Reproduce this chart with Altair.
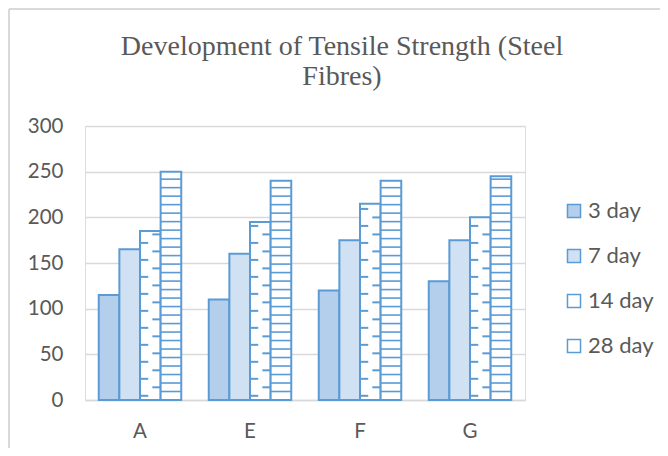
import altair as alt
import pandas as pd

categories = ["A", "E", "F", "G"]
series = ["3 day", "7 day", "14 day", "28 day"]
day3 = [115, 110, 120, 130]
day7 = [165, 160, 175, 175]
day14 = [185, 195, 215, 200]
day28 = [250, 240, 240, 245]
title_lines = ["Development of Tensile Strength (Steel", "Fibres)"]

rows = []
for s, vals in zip(series, [day3, day7, day14, day28]):
    for c, v in zip(categories, vals):
        rows.append({"cat": c, "series": s, "value": v})
df = pd.DataFrame(rows)

BLUE = "#5B9BD5"
GREY = "#595959"
FONT = "Lato"

xenc = alt.X("cat:N", sort=categories, title=None,
             scale=alt.Scale(paddingInner=0.25, paddingOuter=0.125),
             axis=alt.Axis(labelAngle=0, labelFont=FONT, labelFontSize=20.5, labelColor=GREY,
                           ticks=False, domainColor="#d9d9d9", domainWidth=1.5, labelPadding=21))
yenc = alt.Y("value:Q", title=None,
             scale=alt.Scale(domain=[0, 300]),
             axis=alt.Axis(values=[0, 50, 100, 150, 200, 250, 300], labelFont=FONT, labelFontSize=20.5,
                           labelColor=GREY, ticks=False, domain=False, gridColor="#d9d9d9",
                           gridWidth=1.5, labelPadding=22))

bars = alt.Chart(df).mark_bar(stroke=BLUE, strokeWidth=2).encode(
    x=xenc,
    xOffset=alt.XOffset("series:N", sort=series),
    y=yenc,
    fill=alt.Fill("series:N", sort=series, title=None,
                  scale=alt.Scale(domain=series, range=["#b4cfec", "#d0e1f3", "#ffffff", "#ffffff"]),
                  legend=alt.Legend(orient="none", legendX=478, legendY=74, labelFont=FONT,
                                    labelFontSize=22, labelColor=GREY, symbolType="square",
                                    symbolSize=170, symbolStrokeColor=BLUE, symbolStrokeWidth=1.5,
                                    rowPadding=23, labelOffset=3)),
)

# horizontal lines pattern for 28 day
lines28 = alt.Chart(df).transform_filter(alt.datum.series == "28 day").transform_calculate(
    ys="sequence(9.3, datum.value - 2, 9.3)"
).transform_flatten(["ys"]).mark_rule(color=BLUE, strokeWidth=1.6).encode(
    x=alt.X("cat:N", sort=categories, bandPosition=0.75),
    x2=alt.X2("cat", bandPosition=1.0),
    y=alt.Y("ys:Q"),
)

# dashes pattern for 14 day (alternating left / right)
base14 = alt.Chart(df).transform_filter(alt.datum.series == "14 day")
left14 = base14.transform_calculate(ys="sequence(4.6, datum.value - 3, 18.6)").transform_flatten(["ys"]).mark_rule(
    color=BLUE, strokeWidth=2).encode(
    x=alt.X("cat:N", sort=categories, bandPosition=0.5),
    x2=alt.X2("cat", bandPosition=0.6),
    y=alt.Y("ys:Q"),
)
right14 = base14.transform_calculate(ys="sequence(13.9, datum.value - 3, 18.6)").transform_flatten(["ys"]).mark_rule(
    color=BLUE, strokeWidth=2).encode(
    x=alt.X("cat:N", sort=categories, bandPosition=0.65),
    x2=alt.X2("cat", bandPosition=0.75),
    y=alt.Y("ys:Q"),
)

# title as text
title = alt.Chart(pd.DataFrame({"t": [title_lines]})).mark_text(
    font="Liberation Serif", fontSize=28, color=GREY, align="center", baseline="alphabetic",
    lineHeight=30).encode(
    text="t", x=alt.value(257), y=alt.value(-71))

# outer frame (left and top edges visible)
frame_left = alt.Chart(pd.DataFrame({"k": [0]})).mark_rule(color="#d9d9d9", strokeWidth=2).encode(
    x=alt.value(-76), y=alt.value(-117), y2=alt.value(330))
frame_top = alt.Chart(pd.DataFrame({"k": [0]})).mark_rule(color="#d9d9d9", strokeWidth=2).encode(
    x=alt.value(-76), x2=alt.value(600), y=alt.value(-117))

chart = alt.layer(bars, lines28, left14, right14, title, frame_left, frame_top).properties(
    width=440, height=274,
    padding={"left": 77, "top": 118, "right": 135, "bottom": 48},
    autosize=alt.AutoSizeParams(type="none"),
).configure_view(stroke=None).configure(background="white")

chart.save("out.html", embed_options={"renderer": "svg", "actions": False})
